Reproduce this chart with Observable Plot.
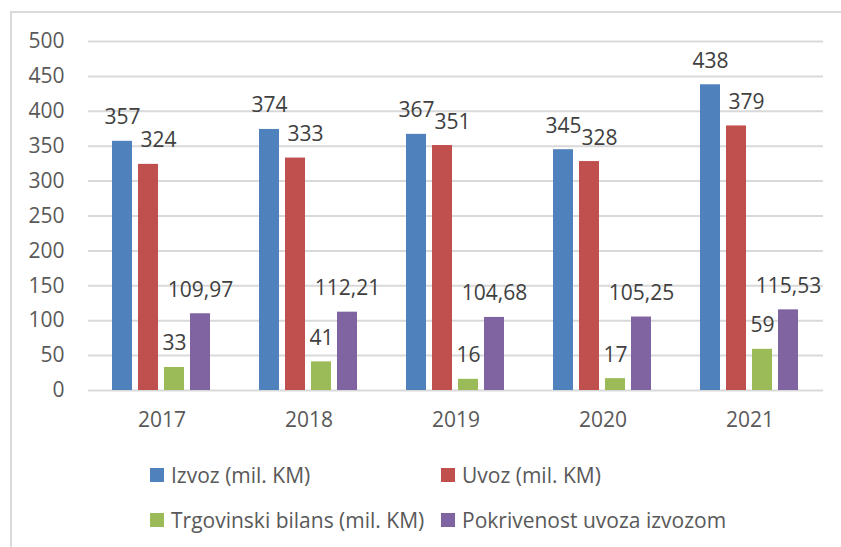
<!DOCTYPE html>
<html>
<head>
<meta charset="utf-8">
<script src="https://cdn.jsdelivr.net/npm/d3@7"></script>
<script src="https://cdn.jsdelivr.net/npm/@observablehq/plot@0.6"></script>
<style>
  html, body { margin: 0; padding: 0; background: #fff; }
  body { width: 841px; height: 547px; position: relative; overflow: hidden; font-family: "Open Sans", sans-serif; }
  #frame { position: absolute; left: 10px; top: 11px; width: 900px; height: 600px; border-left: 2px solid #d9d9d9; border-top: 2px solid #d9d9d9; }
  #chart { position: absolute; left: 0; top: 0; }
  .legend { position: absolute; font-size: 21px; color: #595959; display: flex; align-items: center; white-space: nowrap; line-height: 1; }
  .legend .sw { width: 14px; height: 14px; margin-right: 7px; flex: none; }
</style>
</head>
<body>
<div id="frame"></div>
<div id="chart"></div>
<div id="legend"></div>
<script>
const years = ["2017", "2018", "2019", "2020", "2021"];
const series = ["Izvoz (mil. KM)", "Uvoz (mil. KM)", "Trgovinski bilans (mil. KM)", "Pokrivenost uvoza izvozom"];
const izvoz = [357, 374, 367, 345, 438];
const uvoz = [324, 333, 351, 328, 379];
const bilans = [33, 41, 16, 17, 59];
const pokrivenost = [109.97, 112.21, 104.68, 105.25, 115.53];
const colors = ["#4f81bd", "#c0504d", "#9bbb59", "#8064a2"];
const yTicks = [0, 50, 100, 150, 200, 250, 300, 350, 400, 450, 500];

const seriesValues = [izvoz, uvoz, bilans, pokrivenost];
const data = [];
years.forEach((year, i) => {
  series.forEach((s, j) => {
    data.push({year, series: s, value: seriesValues[j][i]});
  });
});

const fmt = v => Number.isInteger(v) ? String(v) : v.toFixed(2).replace(".", ",");

const labelMark = (s, dx) => Plot.text(data.filter(d => d.series === s), {
  fx: "year", x: "series", y: "value", text: d => fmt(d.value),
  lineAnchor: "bottom", dy: -17, dx, fontSize: 21, fill: "#404040"
});

const chart = Plot.plot({
  width: 841,
  height: 440,
  marginLeft: 87,
  marginRight: 17,
  marginTop: 41,
  marginBottom: 50,
  style: {fontFamily: "'Open Sans', sans-serif", fontSize: "21px", color: "#595959", background: "transparent"},
  fx: {domain: years, padding: 0, tickSize: 0, tickPadding: 22, label: null},
  x: {domain: series, axis: null, paddingInner: 0.222, paddingOuter: 0.844},
  y: {domain: [0, 500], ticks: yTicks, tickSize: 0, tickPadding: 24, label: null},
  color: {domain: series, range: colors},
  marks: [
    Plot.ruleY(yTicks, {stroke: "#d9d9d9", strokeWidth: 2}),
    Plot.barY(data, {fx: "year", x: "series", y: "value", fill: "series"}),
    labelMark(series[0], 0),
    labelMark(series[1], 10),
    labelMark(series[2], 0),
    labelMark(series[3], 0)
  ]
});
document.getElementById("chart").appendChild(chart);

const legendPos = [[150, 468], [441, 468], [150, 513], [441, 513]];
const legend = document.getElementById("legend");
series.forEach((s, i) => {
  const item = document.createElement("div");
  item.className = "legend";
  item.style.left = legendPos[i][0] + "px";
  item.style.top = (legendPos[i][1] - 3) + "px";
  item.style.height = "20px";
  const sw = document.createElement("span");
  sw.className = "sw";
  sw.style.background = colors[i];
  const t = document.createElement("span");
  t.textContent = s;
  item.appendChild(sw);
  item.appendChild(t);
  legend.appendChild(item);
});
</script>
</body>
</html>
